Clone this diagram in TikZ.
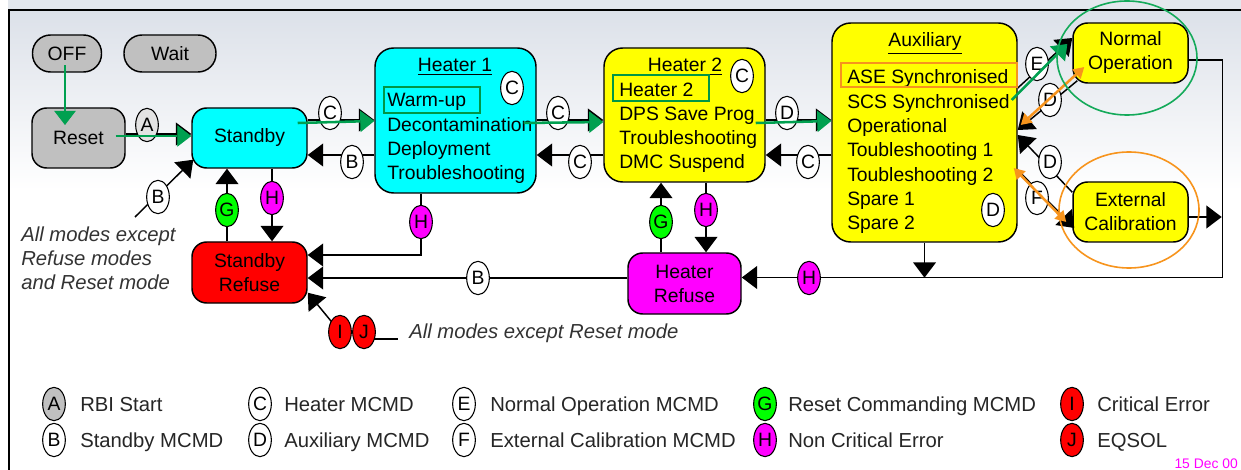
\documentclass[tikz,border=0pt]{standalone}
\usepackage{fontspec}
\setmainfont{Liberation Sans}
\usetikzlibrary{arrows.meta,calc,shapes.geometric}
\definecolor{grn}{RGB}{0,160,80}
\definecolor{ellg}{RGB}{20,170,90}
\definecolor{org}{RGB}{247,148,29}
\definecolor{bgtop}{RGB}{220,225,233}
\definecolor{gry}{RGB}{192,192,192}
\definecolor{boxg}{RGB}{0,150,70}
\definecolor{lgreen}{RGB}{0,255,0}
\definecolor{cyn}{RGB}{0,255,255}
\definecolor{mgn}{RGB}{255,0,255}
\definecolor{rd}{RGB}{255,0,0}
\definecolor{yel}{RGB}{255,255,0}
\newcommand\fm{\fontsize{14.5}{18}\selectfont}
\newcommand\fl{\fontsize{15.2}{18}\selectfont}
\newcommand\fk{\fontsize{14.5}{16}\selectfont}
\begin{document}
\begin{tikzpicture}[x=0.75pt,y=-0.75pt,
  modebox/.style={draw, line width=1.1pt, font=\fm, align=center, inner sep=0pt},
  lab/.style={ellipse, draw, line width=0.8pt, fill=white, inner sep=0pt, minimum width=17pt, minimum height=25pt, font=\fk},
  blk/.style={draw=black, line width=1.1pt, -{Triangle[length=11.5pt,width=17pt]}},
  pln/.style={draw=black, line width=1.1pt},
  grnarr/.style={draw=grn, line width=1.9pt, -{Triangle[length=10.5pt,width=16pt,fill=grn,line width=0.6pt]}},
  orgarr/.style={draw=org, line width=1.9pt, {Triangle[length=8pt,width=9pt]}-{Triangle[length=8pt,width=9pt]}},
  item/.style={anchor=base west, font=\fm, inner sep=0pt},
  ttl/.style={anchor=base, font=\fm, inner sep=0pt},
  note/.style={anchor=base west, font=\fl\itshape, text=black!80, inner sep=0pt},
  legt/.style={anchor=base west, font=\fl, text=black!85, inner sep=0pt},
]
% background and frame
\useasboundingbox (0,0) rectangle (1241,470);
\fill[white] (0,0) rectangle (1241,470);
\fill[bgtop!80] (8,0) rectangle (1241,10);
\shade[top color=bgtop, bottom color=white] (9,10) rectangle (1241,190);
\draw[line width=1.6pt] (9,470) -- (9,10) -- (1241,10);

% mode boxes
\node[modebox, fill=gry, minimum width=51.75pt, minimum height=27.75pt, rounded corners=13.5pt] (off) at (67,53.5) {OFF};
\node[modebox, fill=gry, minimum width=69pt, minimum height=27.75pt, rounded corners=13.5pt] (wait) at (170,53.5) {Wait};
\node[modebox, fill=gry, minimum width=69.75pt, minimum height=45pt, rounded corners=11pt] (reset) at (78.5,138) {Reset};
\node[modebox, fill=cyn, minimum width=86.25pt, minimum height=45pt, rounded corners=11pt] (standby) at (249.5,138) {Standby};
\node[modebox, fill=cyn, minimum width=120.75pt, minimum height=108.75pt, rounded corners=14pt] (h1) at (455.5,120.5) {};
\node[modebox, fill=yel, minimum width=120.75pt, minimum height=100.5pt, rounded corners=14pt] (h2) at (684.5,115) {};
\node[modebox, fill=yel, minimum width=138.75pt, minimum height=164.25pt, rounded corners=14pt] (aux) at (924.5,132.5) {};
\node[modebox, fill=yel, minimum width=86.25pt, minimum height=45pt, rounded corners=11pt] (normop) at (1130.5,53) {Normal\\Operation};
\node[modebox, fill=yel, minimum width=86.25pt, minimum height=45pt, rounded corners=11pt] (extcal) at (1130.5,212) {External\\Calibration};
\node[modebox, fill=rd, minimum width=86.25pt, minimum height=45.75pt, rounded corners=11pt] (srefuse) at (249.5,272.5) {Standby\\Refuse};
\node[modebox, fill=mgn, minimum width=84.75pt, minimum height=45.75pt, rounded corners=11pt] (hrefuse) at (684.5,283.5) {Heater\\Refuse};

% box contents
\node[ttl] (h1t) at (455,72) {\underline{Heater 1}};
\foreach \t [count=\i] in {Warm-up,Decontamination,Deployment,Troubleshooting}
  \node[item] (h1i\i) at (387,{107+24.3*(\i-1)}) {\t};
\node[ttl] (h2t) at (685,72) {\underline{Heater 2}};
\foreach \t [count=\i] in {Heater 2,DPS Save Prog,Troubleshooting,DMC Suspend}
  \node[item] (h2i\i) at (619,{97+23.7*(\i-1)}) {\t};
\node[ttl] (auxt) at (925,47) {\underline{Auxiliary}};
\foreach \t [count=\i] in {ASE Synchronised,SCS Synchronised,Operational,Toubleshooting 1,Toubleshooting 2,Spare 1,Spare 2}
  \node[item] (auxi\i) at (847,{84+24.3*(\i-1)}) {\t};

% free ends
\coordinate (bfree) at (135,217);
\coordinate (ijfree) at (398,339);
\coordinate (pI) at (340,332);
\coordinate (pJ) at (364,332);

% black connectors
\draw[blk] ($(reset.east)+(0,-4)$) -- ($(standby.west)+(0,-4)$);
\draw[blk] ($(standby.east)+(0,-18)$) -- ($(h1.west)+(0,-0.5)$);
\draw[blk] ($(h1.west)+(0,34.5)$) -- ($(standby.east)+(0,17)$);
\draw[blk] ($(h1.east)+(0,-0.5)$) -- ($(h2.west)+(0,5)$);
\draw[blk] ($(h2.west)+(0,40)$) -- ($(h1.east)+(0,34.5)$);
\draw[blk] ($(h2.east)+(0,5)$) -- ($(aux.west)+(0,-12.5)$);
\draw[blk] ($(aux.west)+(0,22.5)$) -- ($(h2.east)+(0,40)$);
\draw[blk] (bfree) -- ($(standby.south west)+(2,-9)$);
\draw[blk] ($(srefuse.north)+(-22.5,0)$) -- ($(standby.south)+(-22.5,0)$);
\draw[blk] ($(standby.south)+(22.5,0)$) -- ($(srefuse.north)+(22.5,0)$);
\draw[blk] ($(h1.south)+(-34.5,0)$) |- ($(srefuse.east)+(0,-17.5)$);
\draw[blk] ($(hrefuse.west)+(0,-5.5)$) -- ($(srefuse.east)+(0,5.5)$);
\draw[blk] ($(hrefuse.north)+(-23.5,0)$) -- ($(h2.south)+(-23.5,0)$);
\draw[blk] ($(h2.south)+(21.5,0)$) -- ($(hrefuse.north)+(21.5,0)$);
\draw[blk] ($(normop.east)+(0,7)$) -- ++(34,0) |- ($(hrefuse.east)+(0,-6)$);
\draw[blk] ($(extcal.east)+(0,5)$) -- ++(33,0);
\draw[blk] (aux.south) -- ++(0,35);
\draw[blk] ($(aux.east)+(0,-44.5)$) -- ($(normop.west)+(0,-15)$);
\draw[blk] ($(normop.south west)+(5,-3)$) -- ($(aux.east)+(0,-2.5)$);
\draw[blk] ($(extcal.north west)+(0,11)$) -- ($(aux.east)+(0,2.5)$);
\draw[blk] ($(aux.east)+(0,37.5)$) -- ($(extcal.west)+(2,16)$);
\draw[blk] (pI) -- ($(srefuse.south east)+(0,-11)$);
\draw[pln] (pJ |- ijfree) -- (ijfree);

% transition labels
\node[lab, fill=gray!22] (lA) at (147,125) {A};
\node[lab] (lC1) at (330,113) {C};
\node[lab] (lB1) at (352,162) {B};
\node[lab] (lC2) at (558,113) {C};
\node[lab] (lC3) at (580,162) {C};
\node[lab] (lD1) at (787,113) {D};
\node[lab] (lC4) at (808,162) {C};
\node[lab] (lCh1) at (512,88) {C};
\node[lab] (lCh2) at (742,76) {C};
\node[lab] (lDaux) at (993,210) {D};
\node[lab] (lE) at (1037,64) {E};
\node[lab] (lD2) at (1050,100) {D};
\node[lab] (lD3) at (1050,162) {D};
\node[lab] (lF) at (1037,198) {F};
\node[lab] (lB2) at (158,197) {B};
\node[lab, fill=lgreen] (lG1) at (227,210) {G};
\node[lab, fill=mgn] (lH1) at (272,198) {H};
\node[lab, fill=mgn] (lH2) at (421,222) {H};
\node[lab] (lB3) at (478,278) {B};
\node[lab, fill=lgreen] (lG2) at (661,222) {G};
\node[lab, fill=mgn] (lH3) at (706,210) {H};
\node[lab, fill=mgn] (lH4) at (809,278) {H};
\node[lab, fill=rd] (lI) at (pI) {I};
\node[lab, fill=rd] (lJ) at (pJ) {J};

% green and orange highlights
\draw[grnarr] ($(off.center)+(-2,12)$) -- ($(reset.center)+(-13.5,-13)$);
\draw[grnarr] ($(reset.east)+(-10,-2)$) -- ($(standby.west)+(0,-2)$);
\draw[grnarr] ($(standby.east)+(-10,-15)$) -- ($(h1.west)+(0,0.5)$);
\draw[grnarr] ($(h1.east)+(-13,2.5)$) -- ($(h2.west)+(0,7)$);
\draw[grnarr] ($(h2.east)+(-10,8)$) -- ($(aux.west)+(0,-11.5)$);
\draw[grnarr] ($(aux.east)+(-6,-32.5)$) -- ($(normop.west)+(-5,-9)$);
\draw[orgarr] ($(aux.east)+(3,-7.5)$) -- ($(normop.west)+(12,14)$);
\draw[orgarr] ($(aux.east)+(-4,35.5)$) -- ($(extcal.west)+(-6,10)$);
\draw[boxg, line width=0.9pt] (384,87) rectangle (480,113);
\draw[boxg, line width=0.9pt] (613,75) rectangle (709,101);
\draw[org, line width=0.9pt] (841,63) rectangle (1017,87);
\draw[ellg, line width=1.2pt] (1127,58) ellipse [x radius=52.5pt, y radius=42.75pt];
\draw[org, line width=1.2pt] (1129,210) ellipse [x radius=52.5pt, y radius=43.5pt];

% notes
\node[note] (n1) at (21,242) {All modes except};
\node[note] (n2) at (21,265) {Refuse modes};
\node[note] (n3) at (21,289) {and Reset mode};
\node[note] (n4) at (409,338) {All modes except Reset mode};

% legend
\node[lab, fill=gry] (kA) at (54,404) {A};
\node[legt] (ktA) at (80,411) {RBI Start};
\node[lab] (kB) at (54,440) {B};
\node[legt] (ktB) at (80,447) {Standby MCMD};
\node[lab] (kC) at (260,404) {C};
\node[legt] (ktC) at (284,411) {Heater MCMD};
\node[lab] (kD) at (260,440) {D};
\node[legt] (ktD) at (284,447) {Auxiliary MCMD};
\node[lab] (kE) at (464,404) {E};
\node[legt] (ktE) at (490,411) {Normal Operation MCMD};
\node[lab] (kF) at (464,440) {F};
\node[legt] (ktF) at (490,447) {External Calibration MCMD};
\node[lab, fill=lgreen] (kG) at (765,404) {G};
\node[legt] (ktG) at (788,411) {Reset Commanding MCMD};
\node[lab, fill=mgn] (kH) at (765,440) {H};
\node[legt] (ktH) at (788,447) {Non Critical Error};
\node[lab, fill=rd] (kI) at (1072,404) {I};
\node[legt] (ktI) at (1097,411) {Critical Error};
\node[lab, fill=rd] (kJ) at (1072,440) {J};
\node[legt] (ktJ) at (1097,447) {EQSOL};
\node[anchor=base east, font=\fontsize{10.4}{12}\selectfont, text=mgn, inner sep=0pt] (date) at (1238,468) {15 Dec 00};
\end{tikzpicture}
\end{document}
